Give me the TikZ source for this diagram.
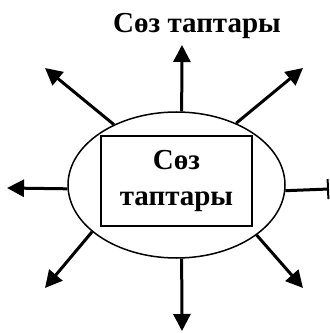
\documentclass[tikz,border=0pt]{standalone}
\usepackage{fontspec}
\setmainfont{Liberation Serif}
\usetikzlibrary{arrows.meta,shapes.geometric}
\tikzset{
  oval/.style={ellipse,draw=black,line width=1.5pt,minimum width=217pt,minimum height=146pt,
    inner sep=0pt},
  box/.style={rectangle,draw=black,line width=1.5pt,minimum width=151pt,minimum height=90pt,
    align=center,inner sep=0pt,font=\bfseries\fontsize{29}{36}\selectfont},
  lbl/.style={font=\bfseries\fontsize{29}{36}\selectfont,inner sep=0pt},
  arr/.style={-{Triangle[length=17pt,width=17pt]},line width=3pt},
  stub/.style={-{Bar[width=20pt,line width=2pt]},line width=3pt},
}

\begin{document}
\begin{tikzpicture}[x=1pt,y=1pt]
    \useasboundingbox (0,0) rectangle (330,333);

    \node[oval] (ell) at (176.5,148) {};
    \node[box] (core) at (176.5,152) {Сөз\\таптары};
    \node[lbl,anchor=base] (title) at (197,301) {Сөз таптары};

    % free ends of the rays
    \coordinate (tN)  at (182,288);
    \coordinate (tNW) at (45,265);
    \coordinate (tNE) at (303,265);
    \coordinate (tW)  at (7,145);
    \coordinate (tE)  at (329,144);
    \coordinate (tSW) at (45,45);
    \coordinate (tSE) at (303,45);
    \coordinate (tS)  at (182,2);

    \draw[arr]  (ell.86)  -- (tN);
    \draw[arr]  (ell.136) -- (tNW);
    \draw[arr]  (ell.46)  -- (tNE);
    \draw[arr]  (ell.182) -- (tW);
    \draw[stub] (ell.357) -- (tE);
    \draw[arr]  (ell.209) -- (tSW);
    \draw[arr]  (ell.328) -- (tSE);
    \draw[arr]  (ell.274) -- (tS);
  \end{tikzpicture}
\end{document}
